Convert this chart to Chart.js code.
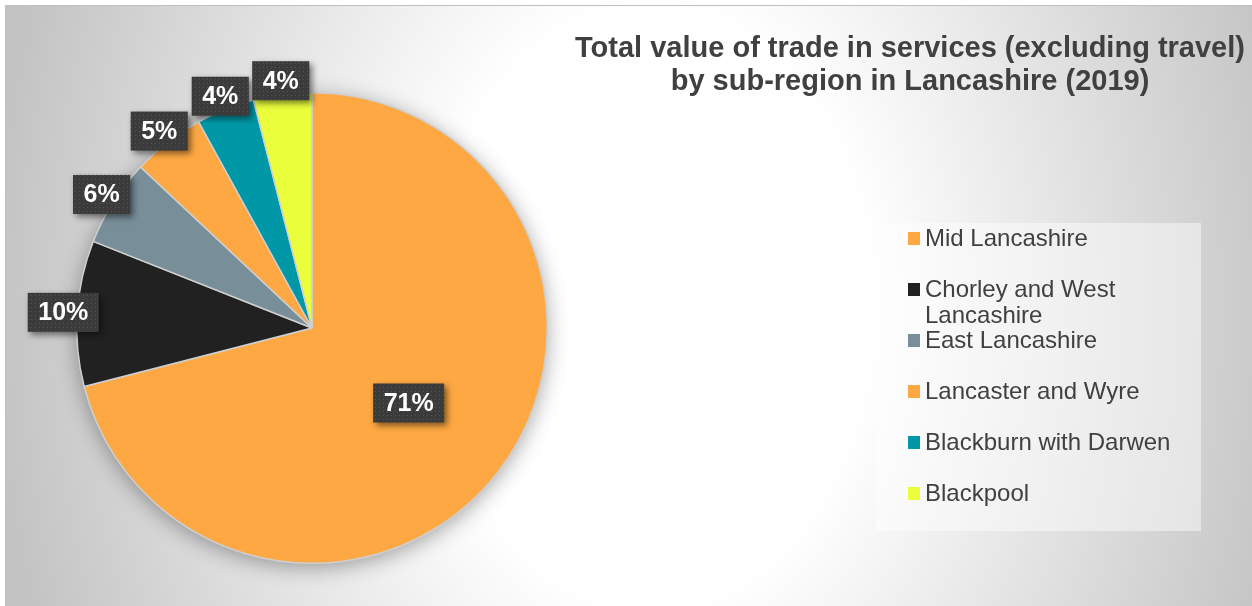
<!DOCTYPE html>
<html>
<head>
<meta charset="utf-8">
<script src="https://cdn.jsdelivr.net/npm/chart.js@4"></script>
<style>
  html, body { margin: 0; padding: 0; background: #fff; overflow: hidden; }
  .frame {
    position: absolute; left: 5px; top: 5px;
    width: 1250px; height: 605px;
    border: 1px solid #bfbfbf;
    background: radial-gradient(ellipse 660px 900px at 645px 300px, #ffffff 0%, #ffffff 33%, #c3c3c3 100%);
  }
  #chart { position: absolute; left: 0; top: 0; }
  .legend {
    position: absolute; left: 870px; top: 217px;
    width: 325px; height: 308px;
    background: rgba(255, 255, 255, 0.45);
    font-family: "Liberation Sans", Arial, sans-serif;
    font-size: 24px; color: #404040;
  }
  .legend .item { position: relative; height: 51px; padding-left: 49px; }
  .legend .item span.txt { display: block; max-width: 270px; line-height: 26px; }
  .legend .item i {
    position: absolute; left: 32px; top: 7px; width: 12px; height: 13px;
  }
  .legend .list { padding-top: 2px; }
</style>
</head>
<body>
<div class="frame">
  <canvas id="chart" width="1246" height="600"></canvas>
  <div class="legend"><div class="list" id="legend"></div></div>
</div>
<script>
const regions = ['Mid Lancashire', 'Chorley and West Lancashire', 'East Lancashire',
                 'Lancaster and Wyre', 'Blackburn with Darwen', 'Blackpool'];
const shares = [71, 10, 6, 5, 4, 4];
const sliceColours = ['#fea843', '#212121', '#788e99', '#fea843', '#0097a7', '#eafe3c'];
const titleLines = ['Total value of trade in services (excluding travel)',
                    'by sub-region in Lancashire (2019)'];

// legend on the right, one row per region
const legendEl = document.getElementById('legend');
regions.forEach((name, i) => {
    const row = document.createElement('div');
    row.className = 'item';
    const sw = document.createElement('i');
    sw.style.background = sliceColours[i];
    const txt = document.createElement('span');
    txt.className = 'txt';
    txt.textContent = name;
    row.appendChild(sw);
    row.appendChild(txt);
    legendEl.appendChild(row);
});

// dotted dark fill used behind the percentage labels
function dotPattern(ctx) {
    const c = document.createElement('canvas');
    c.width = 4; c.height = 4;
    const p = c.getContext('2d');
    p.fillStyle = '#3b3b3b';
    p.fillRect(0, 0, 4, 4);
    p.fillStyle = '#545454';
    p.fillRect(1, 1, 1, 1);
    return ctx.createPattern(c, 'repeat');
}

const titlePlugin = {
    id: 'sideTitle',
    afterDraw(chart) {
        const ctx = chart.ctx;
        ctx.save();
        ctx.fillStyle = '#404040';
        ctx.font = 'bold 29px "Liberation Sans", Arial, sans-serif';
        ctx.textAlign = 'center';
        ctx.textBaseline = 'alphabetic';
        titleLines.forEach((line, i) => ctx.fillText(line, 904, 51 + i * 33));
        ctx.restore();
    }
};

// soft shadow under the whole pie
const pieShadow = {
    id: 'pieShadow',
    beforeDatasetsDraw(chart) {
        const arc = chart.getDatasetMeta(0).data[0];
        if (!arc) return;
        const ctx = chart.ctx;
        ctx.save();
        ctx.shadowColor = 'rgba(0,0,0,0.38)';
        ctx.shadowBlur = 22;
        ctx.shadowOffsetY = 4;
        ctx.fillStyle = '#cccccc';
        ctx.beginPath();
        ctx.arc(arc.x, arc.y, arc.outerRadius - 1, 0, Math.PI * 2);
        ctx.fill();
        ctx.restore();
    }
};

const boxLabels = {
    id: 'boxLabels',
    afterDatasetsDraw(chart) {
        const ctx = chart.ctx;
        const meta = chart.getDatasetMeta(0);
        const total = shares.reduce((a, b) => a + b, 0);
        const fill = dotPattern(ctx);
        ctx.save();
        ctx.font = 'bold 25px "Liberation Sans", Arial, sans-serif';
        ctx.textAlign = 'center';
        ctx.textBaseline = 'middle';
        meta.data.forEach((arc, i) => {
            const mid = (arc.startAngle + arc.endAngle) / 2;
            const big = shares[i] / total > 0.3;
            const dist = big ? arc.outerRadius * 0.52 : arc.outerRadius + 14;
            const cx = arc.x + Math.cos(mid) * dist;
            const cy = arc.y + Math.sin(mid) * dist;
            const text = shares[i] + '%';
            const w = ctx.measureText(text).width + 21;
            const h = 39;
            ctx.save();
            ctx.shadowColor = 'rgba(0,0,0,0.5)';
            ctx.shadowBlur = 6;
            ctx.shadowOffsetX = 3;
            ctx.shadowOffsetY = 3;
            ctx.fillStyle = fill;
            ctx.fillRect(cx - w / 2, cy - h / 2, w, h);
            ctx.restore();
            ctx.fillStyle = '#ffffff';
            ctx.fillText(text, cx, cy + 1);
        });
        ctx.restore();
    }
};

new Chart(document.getElementById('chart'), {
    type: 'pie',
    data: {
        labels: regions,
        datasets: [{
            data: shares,
            backgroundColor: sliceColours,
            borderColor: '#cfcfcf',
            borderWidth: 1.5
        }]
    },
    options: {
        responsive: false,
        animation: false,
        layout: { padding: { left: 70, top: 86, right: 704, bottom: 42 } },
        plugins: {
            legend: { display: false },
            title: { display: false },
            tooltip: { enabled: false }
        }
    },
    plugins: [pieShadow, boxLabels, titlePlugin]
});
</script>
</body>
</html>
